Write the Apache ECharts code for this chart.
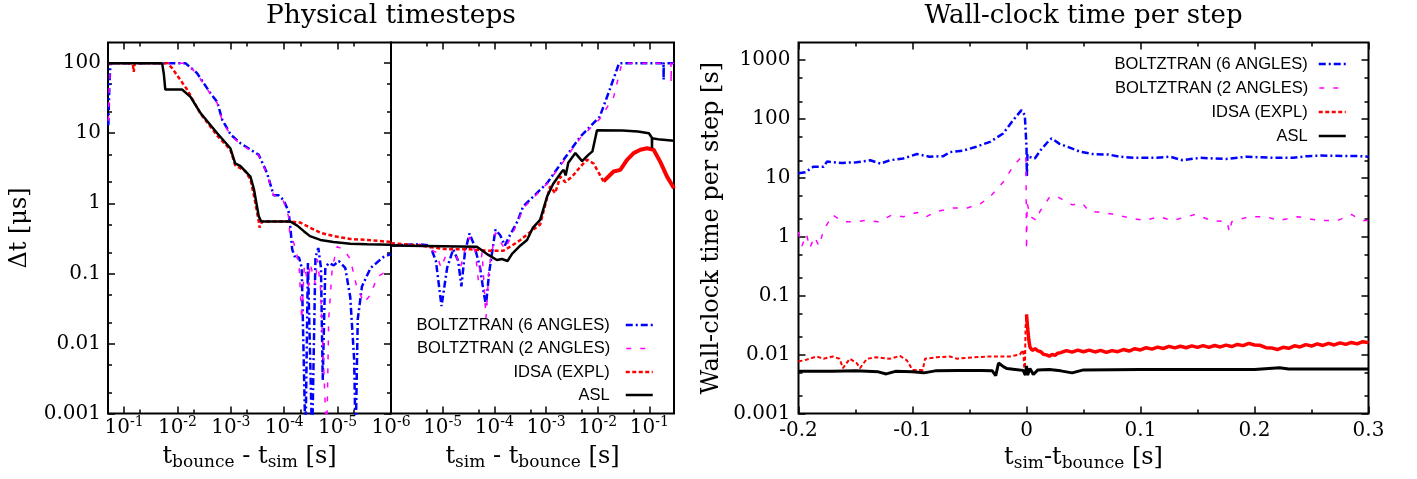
<!DOCTYPE html>
<html>
<head>
<meta charset="utf-8">
<script src="https://cdn.jsdelivr.net/npm/echarts@6/dist/echarts.min.js"></script>
<style>
html,body{margin:0;padding:0;background:#ffffff;}
#chart{width:1417px;height:479px;}
</style>
</head>
<body>
<div id="chart"></div>
<script>
// ================= DATA =================
const SERIES_NAMES = ['BOLTZTRAN (6 ANGLES)', 'BOLTZTRAN (2 ANGLES)', 'IDSA (EXPL)', 'ASL'];

// --- Physical timesteps, before bounce: [t_bounce - t_sim (s), dt (us)]
const blue6Pre = [[0.197,13],[0.188,50],[0.18,100],[0.0071,100],[0.0043,72],[0.0024,37],[0.0018,28],[0.00145,15.5],[0.001,9.5],[0.00066,7.2],[0.0003,4.9],[0.00021,2.7],[0.000158,1.3],[0.000127,1.3],[0.000102,1.1],[8.3e-5,0.76],[7.6e-5,0.42],[7.1e-5,0.22],[6.1e-5,0.16],[5.3e-5,0.17],[4.7e-5,0.12],[4.0e-5,0.0004],[3.6e-5,0.14],[3.0e-5,0.0004],[2.6e-5,0.17],[2.3e-5,0.23],[2.05e-5,0.12],[1.9e-5,0.003],[1.7e-5,0.12],[1.47e-5,0.14],[1.18e-5,0.13],[9.5e-6,0.15],[7.2e-6,0.12],[5.8e-6,0.046],[4.9e-6,0.0059],[4.6e-6,0.0004],[4.2e-6,0.022],[3.5e-6,0.065],[2.4e-6,0.12],[1.4e-6,0.17],[1.0e-6,0.19]];
const magenta2Pre = [[0.197,15],[0.188,50],[0.18,100],[0.0068,100],[0.0043,70],[0.0024,36],[0.0018,27],[0.00145,15],[0.001,9.3],[0.00066,7.0],[0.0003,4.8],[0.00021,2.6],[0.000158,1.3],[0.000127,1.25],[0.000102,1.05],[8.3e-5,0.65],[7.9e-5,0.38],[6.6e-5,0.27],[5.3e-5,0.14],[4.7e-5,0.022],[4.2e-5,0.13],[3.5e-5,0.065],[3.3e-5,0.14],[2.6e-5,0.07],[2.4e-5,0.16],[2.1e-5,0.065],[1.6e-5,0.0004],[1.47e-5,0.022],[1.26e-5,0.12],[1.02e-5,0.24],[7.7e-6,0.22],[5.8e-6,0.16],[4.4e-6,0.065],[3.2e-6,0.038],[2.4e-6,0.05],[1.8e-6,0.09],[1.4e-6,0.1],[1.0e-6,0.1]];
const idsaPre = [[0.197,100],[0.069,100],[0.066,75],[0.063,100],[0.0155,100],[0.0126,85],[0.0089,58],[0.0066,42],[0.0037,19],[0.0018,9.2],[0.00102,5.8],[0.00083,3.5],[0.00054,2.9],[0.00043,2.2],[0.00037,1.3],[0.0003,0.55],[0.00029,0.45],[0.00026,0.55],[7.7e-5,0.55],[5.0e-5,0.53],[3.3e-5,0.45],[2.1e-5,0.38],[1.2e-5,0.34],[5.8e-6,0.31],[2.8e-6,0.30],[1.0e-6,0.28]];
const aslPre = [[0.197,100],[0.0194,100],[0.018,70],[0.0169,42],[0.0082,42],[0.0057,33],[0.0037,19.4],[0.0018,10],[0.00102,6.1],[0.00083,3.7],[0.00066,3.4],[0.00043,2.4],[0.00037,1.6],[0.0003,0.65],[0.00027,0.55],[7.7e-5,0.55],[5.7e-5,0.48],[4.3e-5,0.40],[3.3e-5,0.34],[2.1e-5,0.30],[1.2e-5,0.28],[5.8e-6,0.265],[2.8e-6,0.26],[1.0e-6,0.255]];

// --- Physical timesteps, after bounce: [t_sim - t_bounce (s), dt (us)]
const blue6Post = [[1e-6,0.25],[3.6e-6,0.26],[5.7e-6,0.25],[7.4e-6,0.15],[9.5e-6,0.034],[1.22e-5,0.12],[1.6e-5,0.22],[2.0e-5,0.15],[2.3e-5,0.065],[2.7e-5,0.2],[3.3e-5,0.37],[4.1e-5,0.25],[5.3e-5,0.12],[6.3e-5,0.05],[6.9e-5,0.035],[7.9e-5,0.1],[1.05e-4,0.42],[1.3e-4,0.35],[1.6e-4,0.25],[2.0e-4,0.35],[2.8e-4,0.55],[3.6e-4,0.9],[5.7e-4,1.25],[1.05e-3,1.94],[2.2e-3,4.2],[4.6e-3,8.9],[0.011,17.3],[0.017,41.5],[0.026,100],[0.188,100],[0.189,58],[0.19,100],[0.3,100]];
const magenta2Post = [[1e-6,0.25],[3.6e-6,0.26],[7.4e-6,0.2],[9.3e-6,0.12],[1.22e-5,0.2],[1.6e-5,0.24],[2.2e-5,0.12],[2.7e-5,0.22],[3.3e-5,0.33],[4.3e-5,0.2],[4.9e-5,0.08],[5.8e-5,0.2],[6.9e-5,0.023],[7.9e-5,0.12],[1.05e-4,0.38],[1.6e-4,0.22],[2.8e-4,0.52],[3.6e-4,0.85],[5.7e-4,1.2],[1.05e-3,1.9],[2.2e-3,4.0],[4.6e-3,8.5],[0.011,16],[0.0204,33],[0.0295,100],[0.262,100],[0.264,52],[0.266,100],[0.3,100]];
const idsaPostEarly = [[1e-6,0.27],[3.6e-6,0.25],[1.2e-5,0.22],[3.4e-5,0.22],[8.3e-5,0.21],[1.5e-4,0.21],[2.2e-4,0.25],[3.2e-4,0.3],[5.6e-4,0.42],[7.7e-4,0.5],[1.2e-3,1.75],[1.5e-3,1.4],[1.9e-3,2.4],[2.36e-3,2.0],[3.2e-3,2.4],[4.6e-3,3.3],[6.2e-3,4.2],[8.3e-3,3.7],[0.013,2.05]];
const idsaPostLate = [[0.013,2.05],[0.0203,2.84],[0.0274,3.0],[0.037,4.17],[0.0497,5.2],[0.067,5.8],[0.09,6.1],[0.121,5.8],[0.163,3.9],[0.22,2.4],[0.3,1.64]];
const aslPost = [[1e-6,0.25],[4.6e-5,0.24],[7.1e-5,0.19],[1.12e-4,0.155],[1.4e-4,0.16],[1.8e-4,0.15],[2.2e-4,0.19],[3.2e-4,0.25],[4.3e-4,0.3],[5.6e-4,0.45],[7.7e-4,0.58],[1.05e-3,1.25],[1.38e-3,1.9],[2.0e-3,2.8],[2.2e-3,3.0],[2.4e-3,2.5],[2.7e-3,3.8],[3.7e-3,5.2],[5.0e-3,4.0],[6.6e-3,4.9],[7.9e-3,5.5],[9.7e-3,11],[0.03,10.9],[0.06,10.6],[0.098,10.0],[0.112,8.6],[0.1125,6.1],[0.113,8.5],[0.163,8.1],[0.3,7.8]];

// --- Wall-clock time per step: [t_sim - t_bounce (s), time (s)]
const blue6Wall = [[-0.2,12],[-0.194,12.5],[-0.187,15.5],[-0.178,15.5],[-0.175,19],[-0.162,18],[-0.149,18.5],[-0.137,20],[-0.128,17.5],[-0.12,20],[-0.108,21.5],[-0.096,25.5],[-0.085,23],[-0.073,23.5],[-0.067,27.5],[-0.056,29],[-0.044,34],[-0.032,41],[-0.0205,57],[-0.0117,96],[-0.0044,142],[-0.0015,117],[0,34],[0.0003,10.5],[0.0008,25],[0.0015,23],[0.0073,21.5],[0.0126,30],[0.02,44],[0.022,47],[0.029,38],[0.047,28],[0.058,25.5],[0.072,25],[0.082,23],[0.094,22],[0.114,22],[0.126,23],[0.137,20],[0.152,22],[0.175,21],[0.193,23],[0.216,22],[0.234,22],[0.246,23.5],[0.258,24],[0.292,23.5],[0.3,23]];
const magenta2Wall = [[-0.2,1.2],[-0.197,0.7],[-0.193,1.1],[-0.19,0.65],[-0.186,1.0],[-0.182,0.7],[-0.178,1.3],[-0.17,2.35],[-0.161,1.8],[-0.149,1.8],[-0.141,1.9],[-0.13,1.8],[-0.118,2.35],[-0.108,2.2],[-0.096,2.6],[-0.088,2.2],[-0.079,2.7],[-0.064,3.1],[-0.052,3.1],[-0.04,3.7],[-0.032,4.8],[-0.02,8.7],[-0.012,15.5],[-0.003,24.5],[-0.0005,24],[0,0.6],[0.0006,3.7],[0.0035,2.2],[0.009,1.9],[0.0117,2.7],[0.0205,4.8],[0.027,4.8],[0.04,3.5],[0.049,3.7],[0.055,2.7],[0.066,2.6],[0.078,2.4],[0.09,2.1],[0.104,1.9],[0.116,2.2],[0.128,1.9],[0.148,2.4],[0.162,1.9],[0.176,1.8],[0.178,1.2],[0.18,1.8],[0.195,2.2],[0.21,2.2],[0.221,1.9],[0.238,2.2],[0.256,1.9],[0.273,1.9],[0.285,2.4],[0.294,1.9],[0.3,1.9]];
const idsaWallPre = [[-0.2,0.0077],[-0.195,0.008],[-0.184,0.0093],[-0.178,0.0085],[-0.17,0.0093],[-0.164,0.0085],[-0.161,0.0059],[-0.155,0.0085],[-0.149,0.0072],[-0.146,0.0059],[-0.14,0.0085],[-0.132,0.009],[-0.12,0.0085],[-0.111,0.0095],[-0.105,0.008],[-0.1,0.0055],[-0.091,0.0055],[-0.089,0.0085],[-0.079,0.009],[-0.067,0.0093],[-0.061,0.0085],[-0.047,0.009],[-0.032,0.0093],[-0.0146,0.0093],[-0.0059,0.01],[-0.003,0.012],[-0.0015,0.0045],[-0.0008,0.03],[0,0.048]];
const idsaWallPost = [[0,0.048],[0.001,0.028],[0.002,0.018],[0.003,0.0135],[0.005,0.0118],[0.0075,0.0126],[0.01,0.0116],[0.0125,0.0112],[0.015,0.0101],[0.0175,0.0099],[0.02,0.0094],[0.0225,0.0101],[0.025,0.0097],[0.0275,0.0106],[0.03,0.0108],[0.035,0.0117],[0.04,0.011],[0.045,0.0119],[0.05,0.0112],[0.055,0.0119],[0.06,0.0111],[0.065,0.0118],[0.07,0.0109],[0.075,0.0117],[0.08,0.0112],[0.085,0.0122],[0.09,0.0115],[0.095,0.0126],[0.1,0.012],[0.105,0.0131],[0.11,0.0124],[0.115,0.0134],[0.12,0.0127],[0.125,0.0138],[0.13,0.013],[0.135,0.0139],[0.14,0.0131],[0.145,0.0141],[0.15,0.0133],[0.155,0.0142],[0.16,0.0133],[0.165,0.0143],[0.17,0.0135],[0.175,0.0145],[0.18,0.0137],[0.185,0.0149],[0.19,0.0142],[0.195,0.0155],[0.2,0.0146],[0.205,0.0144],[0.21,0.0131],[0.215,0.013],[0.22,0.0122],[0.225,0.0133],[0.23,0.0128],[0.235,0.0141],[0.24,0.0135],[0.245,0.0148],[0.25,0.014],[0.255,0.0152],[0.26,0.0143],[0.265,0.0155],[0.27,0.0146],[0.275,0.0158],[0.28,0.0149],[0.285,0.0161],[0.29,0.0152],[0.295,0.0166],[0.3,0.016]];
const aslWall = [[-0.2,0.0052],[-0.17,0.0052],[-0.15,0.0053],[-0.13,0.0051],[-0.123,0.0047],[-0.115,0.0052],[-0.1,0.0051],[-0.09,0.0049],[-0.08,0.0053],[-0.06,0.0054],[-0.04,0.0054],[-0.03,0.0053],[-0.027,0.0044],[-0.0245,0.0072],[-0.02,0.0062],[-0.017,0.0058],[-0.01,0.0056],[-0.003,0.0054],[-0.001,0.0045],[0,0.0064],[0.001,0.0045],[0.003,0.0058],[0.006,0.0046],[0.01,0.0055],[0.02,0.0056],[0.03,0.0053],[0.04,0.0049],[0.05,0.0055],[0.1,0.0056],[0.15,0.0056],[0.2,0.0056],[0.222,0.006],[0.23,0.0057],[0.3,0.0057]];

// --- ticks and labels
const DT_Y_TICKS = [0.001,0.01,0.1,1,10,100];
const DT_Y_LABELS = ['0.001','0.01','0.1','1','10','100'];
const DT_Y_MINOR = [0.002,0.005,0.02,0.05,0.2,0.5,2,5,20,50];
const WALL_Y_TICKS = [0.001,0.01,0.1,1,10,100,1000];
const WALL_Y_LABELS = ['0.001','0.01','0.1','1','10','100','1000'];
const WALL_Y_MINOR = [0.002,0.005,0.02,0.05,0.2,0.5,2,5,20,50,200,500];
const PRE_X_TICKS = [1e-1,1e-2,1e-3,1e-4,1e-5,1e-6];
const PRE_X_EXP = ['-1','-2','-3','-4','-5','-6'];
const PRE_X_MINOR = [5e-2,5e-3,5e-4,5e-5,5e-6];
const POST_X_TICKS = [1e-5,1e-4,1e-3,1e-2,1e-1];
const POST_X_EXP = ['-5','-4','-3','-2','-1'];
const POST_X_MINOR = [5e-6,5e-5,5e-4,5e-3,5e-2];

// ================= STYLE =================
const SERIF = 'DejaVu Serif';
const SANS = 'Liberation Sans';
const LINE_STYLES = [
  {color:'#0000ff', width:2.5, type:[7,3,2,3]},
  {color:'#ff00ff', width:1.5, type:[5,9]},
  {color:'#ff0000', width:2.5, type:[4,2.5]},
  {color:'#000000', width:2.5, type:'solid'}
];
const TICK = {color:'#000', width:1.5};

function pick(vals, labels, v) {
  let best = 0, bd = Infinity;
  vals.forEach((t, i) => { const d = Math.abs(Math.log10(t) - Math.log10(v)); if (d < bd) { bd = d; best = i; } });
  return labels[best];
}
const POW_RICH = {
  b: {fontFamily: SERIF, fontSize: 20, color: '#000', lineHeight: 24},
  s: {fontFamily: SERIF, fontSize: 14, color: '#000', lineHeight: 10, verticalAlign: 'top'}
};
const NAME_RICH = {
  i: {fontFamily: SERIF, fontSize: 24, color: '#000', lineHeight: 30},
  s: {fontFamily: SERIF, fontSize: 17, color: '#000', lineHeight: 12, verticalAlign: 'bottom'}
};

function tickAxis(base, len, vals) {
  return Object.assign({
    axisLine: {show: false, onZero: false},
    splitLine: {show: false},
    axisLabel: {show: false},
    axisTick: {show: true, inside: true, length: len, lineStyle: TICK, customValues: vals}
  }, base);
}

const GRID_TOP = 42.5, GRID_H = 371;
const grids = [
  {left: 108, top: GRID_TOP, width: 283, height: GRID_H},
  {left: 391, top: GRID_TOP, width: 283, height: GRID_H},
  {left: 798.5, top: GRID_TOP, width: 570, height: GRID_H}
].map(g => Object.assign(g, {show: true, borderColor: '#000', borderWidth: 2, backgroundColor: 'transparent', containLabel: false, outerBoundsMode: 'none'}));

const preBase = {gridIndex: 0, type: 'log', logBase: 10, min: 1e-6, max: 0.2, inverse: true};
const postBase = {gridIndex: 1, type: 'log', logBase: 10, min: 1e-6, max: 0.3};
const wallXBase = {gridIndex: 2, type: 'value', min: -0.2, max: 0.3, interval: 0.1};

const xAxis = [
  Object.assign(tickAxis(Object.assign({position: 'bottom'}, preBase), 7, PRE_X_TICKS), {
    axisLabel: {show: true, customValues: PRE_X_TICKS, margin: 2,
      formatter: v => '{b|10}{s|' + pick(PRE_X_TICKS, PRE_X_EXP, v) + '}', rich: POW_RICH},
    name: '{i|t}{s|bounce}{i| - t}{s|sim}{i| [s]}', nameLocation: 'middle', nameGap: 28,
    nameTextStyle: {rich: NAME_RICH}
  }),
  tickAxis(Object.assign({position: 'bottom'}, preBase), 4, PRE_X_MINOR),
  tickAxis(Object.assign({position: 'top'}, preBase), 7, PRE_X_TICKS),
  tickAxis(Object.assign({position: 'top'}, preBase), 4, PRE_X_MINOR),
  Object.assign(tickAxis(Object.assign({position: 'bottom'}, postBase), 7, POST_X_TICKS), {
    axisLabel: {show: true, customValues: POST_X_TICKS, margin: 2,
      formatter: v => '{b|10}{s|' + pick(POST_X_TICKS, POST_X_EXP, v) + '}', rich: POW_RICH},
    name: '{i|t}{s|sim}{i| - t}{s|bounce}{i| [s]}', nameLocation: 'middle', nameGap: 28,
    nameTextStyle: {rich: NAME_RICH}
  }),
  tickAxis(Object.assign({position: 'bottom'}, postBase), 4, POST_X_MINOR),
  tickAxis(Object.assign({position: 'top'}, postBase), 7, POST_X_TICKS),
  tickAxis(Object.assign({position: 'top'}, postBase), 4, POST_X_MINOR),
  Object.assign({position: 'bottom'}, wallXBase, {
    axisLine: {show: false, onZero: false}, splitLine: {show: false},
    axisTick: {show: true, inside: true, length: 7, lineStyle: TICK},
    minorTick: {show: true, splitNumber: 2, length: 4, lineStyle: TICK},
    axisLabel: {show: true, margin: 7, fontFamily: SERIF, fontSize: 20, color: '#000'},
    name: '{i|t}{s|sim}{i|-t}{s|bounce}{i| [s]}', nameLocation: 'middle', nameGap: 28,
    nameTextStyle: {rich: NAME_RICH}
  }),
  Object.assign({position: 'top'}, wallXBase, {
    axisLine: {show: false, onZero: false}, splitLine: {show: false},
    axisTick: {show: true, inside: true, length: 7, lineStyle: TICK},
    minorTick: {show: true, splitNumber: 2, length: 4, lineStyle: TICK},
    axisLabel: {show: false}
  })
];

const dtYBase = {type: 'log', logBase: 10, min: 0.001, max: 197};
const wallYBase = {gridIndex: 2, type: 'log', logBase: 10, min: 0.001, max: 2000};

const yAxis = [
  Object.assign(tickAxis(Object.assign({gridIndex: 0, position: 'left'}, dtYBase), 7, DT_Y_TICKS), {
    axisLabel: {show: true, customValues: DT_Y_TICKS, margin: 7, fontFamily: SERIF, fontSize: 20, color: '#000',
      formatter: v => pick(DT_Y_TICKS, DT_Y_LABELS, v)},
    name: 'Δt [μs]', nameLocation: 'middle', nameGap: 76, nameRotate: 90,
    nameTextStyle: {fontFamily: SERIF, fontSize: 24, color: '#000'}
  }),
  tickAxis(Object.assign({gridIndex: 0, position: 'left'}, dtYBase), 4, DT_Y_MINOR),
  tickAxis(Object.assign({gridIndex: 0, position: 'right'}, dtYBase), 7, DT_Y_TICKS),
  tickAxis(Object.assign({gridIndex: 0, position: 'right'}, dtYBase), 4, DT_Y_MINOR),
  Object.assign({gridIndex: 1, position: 'left', show: false, axisLine: {onZero: false}}, dtYBase),
  Object.assign(tickAxis(Object.assign({position: 'left'}, wallYBase), 7, WALL_Y_TICKS), {
    axisLabel: {show: true, customValues: WALL_Y_TICKS, margin: 8, fontFamily: SERIF, fontSize: 20, color: '#000',
      formatter: v => pick(WALL_Y_TICKS, WALL_Y_LABELS, v)},
    name: 'Wall-clock time per step [s]', nameLocation: 'middle', nameGap: 75, nameRotate: 90,
    nameTextStyle: {fontFamily: SERIF, fontSize: 24, color: '#000'}
  }),
  tickAxis(Object.assign({position: 'left'}, wallYBase), 4, WALL_Y_MINOR),
  tickAxis(Object.assign({position: 'right'}, wallYBase), 7, WALL_Y_TICKS),
  tickAxis(Object.assign({position: 'right'}, wallYBase), 4, WALL_Y_MINOR)
];

function mk(nameIdx, data, xi, yi, styleOverride) {
  const st = Object.assign({}, LINE_STYLES[nameIdx], styleOverride || {});
  return {
    type: 'line', name: SERIES_NAMES[nameIdx], data: data, xAxisIndex: xi, yAxisIndex: yi,
    symbol: 'none', showSymbol: false, silent: true, animation: false, clip: true,
    lineStyle: {color: st.color, width: st.width, type: st.type},
    itemStyle: {color: st.color}, z: 2 + nameIdx
  };
}

const series = [
  mk(0, blue6Pre, 0, 0), mk(0, blue6Post, 4, 4), mk(0, blue6Wall, 8, 5),
  mk(1, magenta2Pre, 0, 0), mk(1, magenta2Post, 4, 4), mk(1, magenta2Wall, 8, 5),
  mk(2, idsaPre, 0, 0), mk(2, idsaPostEarly, 4, 4), mk(2, idsaPostLate, 4, 4, {type: 'solid', width: 4}),
  mk(2, idsaWallPre, 8, 5, {width: 2}), mk(2, idsaWallPost, 8, 5, {type: 'solid', width: 3.5}),
  mk(3, aslPre, 0, 0), mk(3, aslPost, 4, 4), mk(3, aslWall, 8, 5, {width: 3})
];

function legendItem(i, right, top, textPad) {
  const st = LINE_STYLES[i];
  return {
    data: [SERIES_NAMES[i]], orient: 'horizontal', align: 'right', right: right, top: top, padding: 0,
    itemWidth: 27, itemHeight: 14, selectedMode: false,
    itemStyle: {opacity: 0},
    lineStyle: {color: st.color, width: st.width, type: st.type, opacity: 1},
    textStyle: {fontFamily: SANS, fontSize: 16.5, color: '#000', padding: [0, textPad, 0, 0]}
  };
}
const LEFT_LEG_TOPS = [316.5, 340, 363.5, 386.5];
const RIGHT_LEG_TOPS = [55.5, 79.5, 103.5, 127.5];
const legend = [];
SERIES_NAMES.forEach((n, i) => legend.push(legendItem(i, 763, LEFT_LEG_TOPS[i], 11)));
SERIES_NAMES.forEach((n, i) => legend.push(legendItem(i, 70, RIGHT_LEG_TOPS[i], 6)));

const option = {
  animation: false,
  backgroundColor: '#ffffff',
  grid: grids,
  xAxis: xAxis,
  yAxis: yAxis,
  legend: legend,
  series: series,
  graphic: [
    {type: 'text', x: 391, y: 16, style: {text: 'Physical timesteps', font: '26.5px "DejaVu Serif"', fill: '#000', align: 'center', verticalAlign: 'middle', textAlign: 'center', textVerticalAlign: 'middle'}},
    {type: 'text', x: 1083.5, y: 16, style: {text: 'Wall-clock time per step', font: '26px "DejaVu Serif"', fill: '#000', align: 'center', verticalAlign: 'middle', textAlign: 'center', textVerticalAlign: 'middle'}}
  ]
};

const chart = echarts.init(document.getElementById('chart'), null, {renderer: 'canvas'});
chart.setOption(option);
</script>
</body>
</html>
